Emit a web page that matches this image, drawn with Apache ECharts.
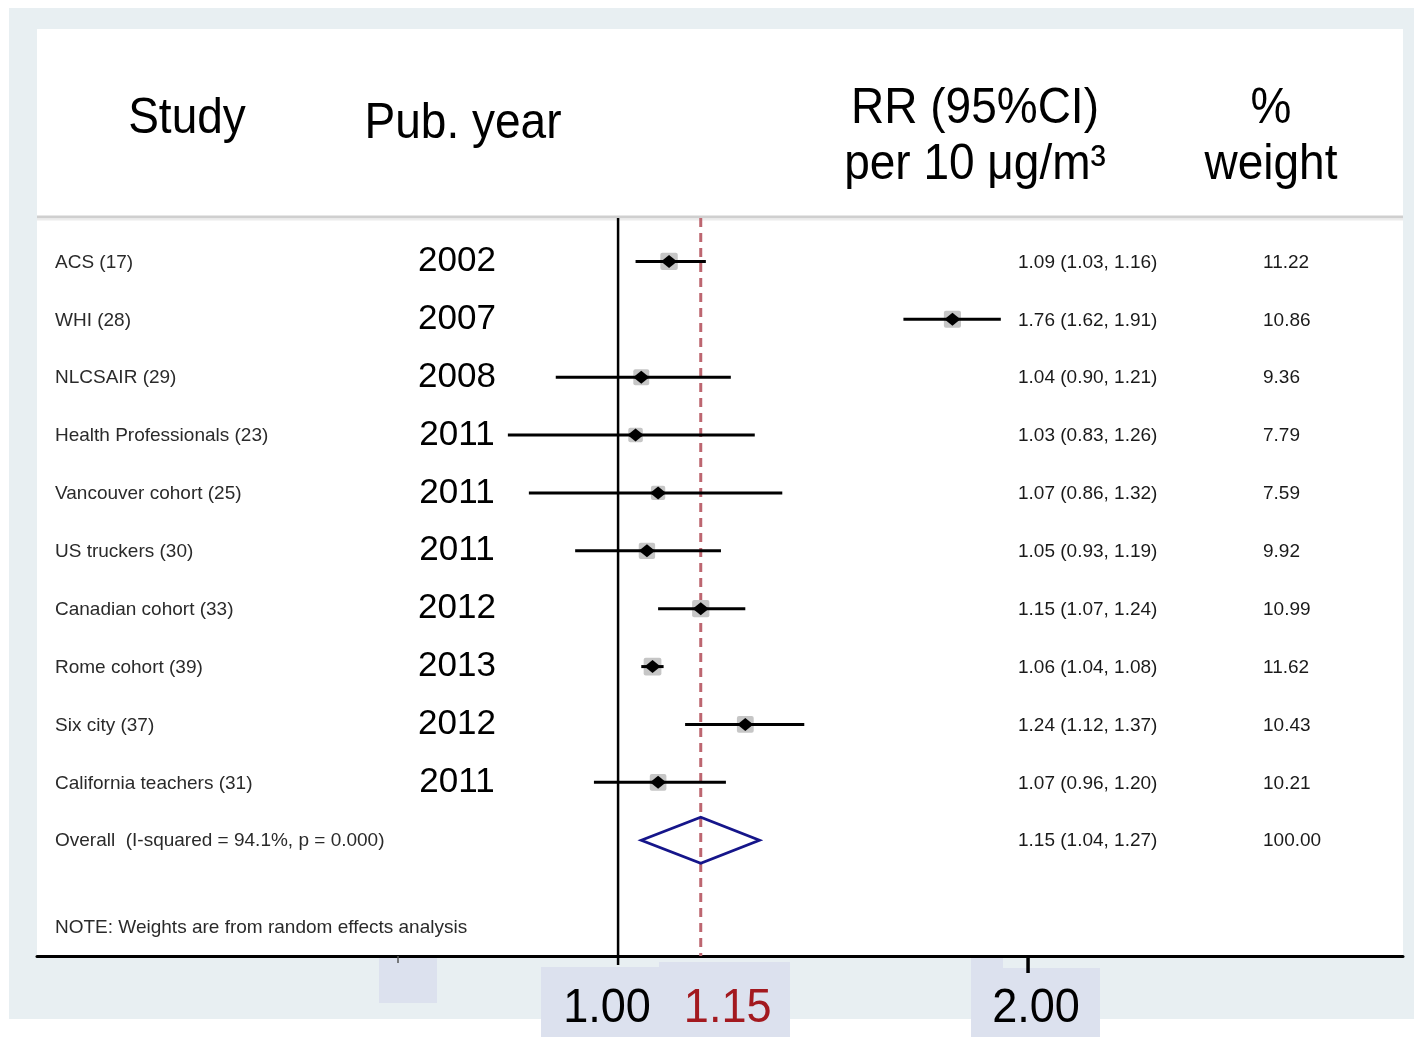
<!DOCTYPE html>
<html><head><meta charset="utf-8">
<script src="https://cdn.jsdelivr.net/npm/echarts@6/dist/echarts.min.js"></script>
<style>html,body{margin:0;padding:0;background:#fff}#c{width:1414px;height:1037px}</style>
</head><body><div id="c"></div>
<script>
// ---------- data ----------
const studies = ['ACS (17)', 'WHI (28)', 'NLCSAIR (29)', 'Health Professionals (23)', 'Vancouver cohort (25)',
  'US truckers (30)', 'Canadian cohort (33)', 'Rome cohort (39)', 'Six city (37)', 'California teachers (31)'];
const years = ['2002', '2007', '2008', '2011', '2011', '2011', '2012', '2013', '2012', '2011'];
const rr = [1.09, 1.76, 1.04, 1.03, 1.07, 1.05, 1.15, 1.06, 1.24, 1.07];
const ciLow = [1.03, 1.62, 0.90, 0.83, 0.86, 0.93, 1.07, 1.04, 1.12, 0.96];
const ciHigh = [1.16, 1.91, 1.21, 1.26, 1.32, 1.19, 1.24, 1.08, 1.37, 1.20];
const weights = [11.22, 10.86, 9.36, 7.79, 7.59, 9.92, 10.99, 11.62, 10.43, 10.21];
const overallLabel = 'Overall  (I-squared = 94.1%, p = 0.000)';
const overallRR = 1.15, overallLow = 1.04, overallHigh = 1.27, overallWeight = 100.00;
const noteText = 'NOTE: Weights are from random effects analysis';
const nullValue = 1.00;
const pooledLine = 1.15;
const tickValues = [1.00, 1.15, 2.00];
const tickLabels = ['1.00', '1.15', '2.00'];
const headers = {study: 'Study', year: 'Pub. year', rr1: 'RR (95%CI)', rr2: 'per 10 μg/m³', w1: '%', w2: 'weight'};

// ---------- chart ----------
const chart = echarts.init(document.getElementById('c'), null, {renderer: 'canvas'});
const fmt = v => v.toFixed(2);
const smallFont = '19px "Liberation Sans", Arial, sans-serif';
const rowData = rr.map((v, i) => [v, ciLow[i], ciHigh[i], weights[i], i]);
const nRows = studies.length;

function txt(x, y, text, font, fill, align) {
  return {type: 'text', x: x, y: y, style: {text: text, font: font, fill: fill || '#1a1a1a',
    align: align || 'left', verticalAlign: 'middle', textAlign: align || 'left', textVerticalAlign: 'middle'}};
}

const option = {
  animation: false,
  backgroundColor: '#ffffff',
  grid: {left: 37, right: 11, top: 218, bottom: 81, containLabel: false},
  xAxis: {
    type: 'log', logBase: 2, min: 0.3744, max: 3.770,
    axisLine: {show: true, onZero: false, lineStyle: {color: '#000', width: 3}},
    axisTick: {show: false}, axisLabel: {show: false}, splitLine: {show: false}
  },
  yAxis: {
    type: 'value', inverse: true, min: -0.75, max: 12,
    show: false, splitLine: {show: false}
  },
  graphic: [],
  series: [
    { // reference lines
      type: 'custom', z: 3, clip: false,
      data: [[nullValue, 0], [pooledLine, 1]],
      encode: {x: 0, y: 1},
      renderItem: function (params, api) {
        const cs = params.coordSys;
        const x = api.coord([api.value(0), 0])[0];
        if (api.value(1) === 0) {
          return {type: 'line', shape: {x1: x, y1: cs.y, x2: x, y2: cs.y + cs.height + 9},
            style: {stroke: '#000', lineWidth: 2.5}};
        }
        return {type: 'line', shape: {x1: x, y1: cs.y, x2: x, y2: cs.y + cs.height},
          style: {stroke: '#bd6670', lineWidth: 3, lineDash: [9, 6]}};
      }
    },
    { // study estimates
      type: 'custom', z: 4, clip: false,
      data: rowData,
      encode: {x: [0, 1, 2], y: 4},
      renderItem: function (params, api) {
        const i = api.value(4);
        const c = api.coord([api.value(0), i]);
        const l = api.coord([api.value(1), i]);
        const h = api.coord([api.value(2), i]);
        const s = 5.2 * Math.sqrt(api.value(3));
        return {type: 'group', children: [
          {type: 'rect', shape: {x: c[0] - s / 2, y: c[1] - s / 2, width: s, height: s, r: 2},
            style: {fill: '#c6c6c6'}},
          {type: 'line', shape: {x1: l[0], y1: l[1], x2: h[0], y2: h[1]},
            style: {stroke: '#000', lineWidth: 3}},
          {type: 'polygon', shape: {points: [[c[0] - 8, c[1]], [c[0], c[1] - 6.5], [c[0] + 8, c[1]], [c[0], c[1] + 6.5]]},
            style: {fill: '#000'}}
        ]};
      }
    },
    { // overall diamond
      type: 'custom', z: 4, clip: false,
      data: [[overallRR, overallLow, overallHigh, nRows]],
      encode: {x: [0, 1, 2], y: 3},
      renderItem: function (params, api) {
        const r = api.value(3);
        const c = api.coord([api.value(0), r]);
        const l = api.coord([api.value(1), r]);
        const h = api.coord([api.value(2), r]);
        return {type: 'polygon',
          shape: {points: [[l[0], c[1]], [c[0], c[1] - 23], [h[0], c[1]], [c[0], c[1] + 23]]},
          style: {fill: 'none', stroke: '#15158a', lineWidth: 2.8}};
      }
    },
    { // text columns
      type: 'custom', z: 5, clip: false,
      data: studies.map((s, i) => [1, i]).concat([[1, nRows], [1, nRows + 1.5]]),
      encode: {x: 0, y: 1},
      renderItem: function (params, api) {
        const r = api.value(1);
        const y = api.coord([1, r])[1] + 1;
        const i = params.dataIndex;
        if (i < nRows) {
          return {type: 'group', children: [
            txt(55, y, studies[i], smallFont, '#2a2a2a'),
            txt(457, y - 1, years[i], '35px "Liberation Sans", Arial, sans-serif', '#000', 'center'),
            txt(1018, y, fmt(rr[i]) + ' (' + fmt(ciLow[i]) + ', ' + fmt(ciHigh[i]) + ')', smallFont, '#1a1a1a'),
            txt(1263, y, fmt(weights[i]), smallFont, '#1a1a1a')
          ]};
        }
        if (i === nRows) {
          return {type: 'group', children: [
            txt(55, y, overallLabel, smallFont, '#2a2a2a'),
            txt(1018, y, fmt(overallRR) + ' (' + fmt(overallLow) + ', ' + fmt(overallHigh) + ')', smallFont, '#1a1a1a'),
            txt(1263, y, fmt(overallWeight), smallFont, '#1a1a1a')
          ]};
        }
        return txt(55, y, noteText, smallFont, '#2a2a2a');
      }
    }
  ]
};
chart.setOption(option);

// ---------- decorations and axis labels placed through the axis scale ----------
const big = '50px "Liberation Sans", Arial, sans-serif';
function headText(x, y, text, font, fill, sx) {
  return {type: 'text', x: x, y: y, scaleX: sx || 0.92, z: 10,
    style: {text: text, font: font, fill: fill || '#000', x: 0, y: 0,
      align: 'center', verticalAlign: 'middle', textAlign: 'center', textVerticalAlign: 'middle'}};
}
const tickPx = tickValues.map(v => chart.convertToPixel({xAxisIndex: 0}, v));
const labelDx = [-11, 27, 8];
const boxFill = '#dce1ee';
const graphics = [
  {type: 'rect', z: -20, shape: {x: 9, y: 8, width: 1405, height: 1011}, style: {fill: '#e8eff2'}},
  {type: 'rect', z: -19, shape: {x: 37, y: 29, width: 1366, height: 927}, style: {fill: '#ffffff'}},
  {type: 'line', z: -18, shape: {x1: 37, y1: 217, x2: 1403, y2: 217}, style: {stroke: '#cfcfcf', lineWidth: 3}},
  {type: 'line', z: -18, shape: {x1: 37, y1: 219.5, x2: 1403, y2: 219.5}, style: {stroke: '#ececec', lineWidth: 2}},
  {type: 'rect', z: -17, shape: {x: 379, y: 958, width: 58, height: 45}, style: {fill: boxFill}},
  {type: 'rect', z: -17, shape: {x: 541, y: 967, width: 119, height: 70}, style: {fill: boxFill}},
  {type: 'rect', z: -17, shape: {x: 659, y: 962, width: 131, height: 75}, style: {fill: boxFill}},
  {type: 'rect', z: -17, shape: {x: 971, y: 958, width: 32, height: 12}, style: {fill: boxFill}},
  {type: 'rect', z: -17, shape: {x: 971, y: 968, width: 129, height: 69}, style: {fill: boxFill}},
  {type: 'line', z: 10, shape: {x1: 398, y1: 956, x2: 398, y2: 963}, style: {stroke: '#555', lineWidth: 1.5}},
  {type: 'line', z: 10, shape: {x1: tickPx[2], y1: 956, x2: tickPx[2], y2: 973}, style: {stroke: '#000', lineWidth: 3.5}},
  headText(187, 119, headers.study, big),
  headText(463, 124, headers.year, big),
  headText(975, 109, headers.rr1, big),
  headText(975, 165, headers.rr2, big),
  headText(1271, 109, headers.w1, big),
  headText(1271, 165, headers.w2, big)
];
tickLabels.forEach((t, k) => {
  graphics.push(headText(tickPx[k] + labelDx[k], 1008, t, '49px "Liberation Sans", Arial, sans-serif',
    k === 1 ? '#a3191f' : '#000', 0.92));
});
chart.setOption({graphic: graphics});
</script>
</body></html>
